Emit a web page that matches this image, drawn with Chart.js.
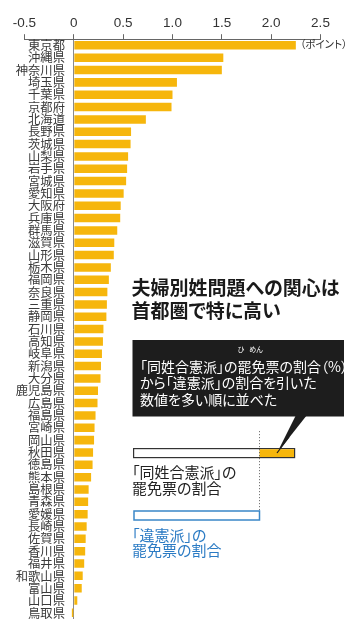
<!DOCTYPE html>
<html lang="ja">
<head>
<meta charset="utf-8">
<script src="https://cdn.jsdelivr.net/npm/chart.js@4.4.1/dist/chart.umd.min.js"></script>
<style>
  html, body { margin: 0; padding: 0; background: #fff; }
  #wrap { position: relative; width: 355px; height: 640px; overflow: hidden; }
  #chart { position: absolute; left: 0; top: 0; }
  .txt { position: absolute; white-space: nowrap; font-family: "Noto Sans CJK JP", sans-serif; font-feature-settings: "palt"; pointer-events: none; }
  svg { position: absolute; left: 0; top: 0; }
</style>
</head>
<body>
<div id="wrap">
  <canvas id="chart" width="355" height="640"></canvas>
  <svg width="355" height="640" viewBox="0 0 355 640">
    <rect x="132.5" y="340" width="211.5" height="76.5" fill="#1d1d1d"/>
    <polygon points="296,415 307,415 277,453" fill="#1d1d1d"/>
    <rect x="133.6" y="448.6" width="161" height="9" fill="#fff" stroke="#333" stroke-width="1.2"/>
    <rect x="259.5" y="449.2" width="34.5" height="7.8" fill="#f6b60c"/>
    <line x1="277" y1="453" x2="289" y2="437" stroke="#1d1d1d" stroke-width="1.2"/>
    <line x1="259.5" y1="431" x2="259.5" y2="511" stroke="#555" stroke-width="0.8" stroke-dasharray="1.2,1.8"/>
    <rect x="134" y="511" width="125.5" height="9" fill="#fff" stroke="#3a87c8" stroke-width="1.5"/>
  </svg>
  <div class="txt" style="left:300px; top:36px; font-size:10.5px; line-height:15px; color:#333;">（ポイント）</div>
  <div class="txt" style="left:131.5px; top:276px; font-size:19px; line-height:22.5px; font-weight:bold; color:#1a1a1a;">夫婦別姓問題への関心は<br>首都圏で特に高い</div>
  <div class="txt" style="left:231px; top:345px; width:20px; text-align:center; font-size:7px; line-height:9px; color:#fff;">ひ</div>
  <div class="txt" style="left:246px; top:345px; width:20px; text-align:center; font-size:7px; line-height:9px; color:#fff;">めん</div>
  <div class="txt" style="left:140px; top:358px; font-size:14px; line-height:16.3px; color:#fff;">「同姓合憲派」の罷免票の割合（%）<br>から「違憲派」の割合を引いた<br>数値を多い順に並べた</div>
  <div class="txt" style="left:132px; top:463.5px; font-size:15px; line-height:16px; color:#222;">「同姓合憲派」の<br>罷免票の割合</div>
  <div class="txt" style="left:132px; top:526.5px; font-size:15px; line-height:15.5px; color:#2b7bc4;">「違憲派」の<br>罷免票の割合</div>
</div>
<script>
const prefectures = ['東京都','沖縄県','神奈川県','埼玉県','千葉県','京都府','北海道','長野県','茨城県','山梨県','岩手県','宮城県','愛知県','大阪府','兵庫県','群馬県','滋賀県','山形県','栃木県','福岡県','奈良県','三重県','静岡県','石川県','高知県','岐阜県','新潟県','大分県','鹿児島県','広島県','福島県','宮崎県','岡山県','秋田県','徳島県','熊本県','島根県','青森県','愛媛県','長崎県','佐賀県','香川県','福井県','和歌山県','富山県','山口県','鳥取県'];
const pointDiff = [2.25,1.515,1.50,1.045,1.0,0.99,0.73,0.58,0.575,0.55,0.54,0.53,0.505,0.475,0.47,0.44,0.41,0.405,0.375,0.355,0.34,0.335,0.33,0.30,0.295,0.285,0.275,0.27,0.245,0.24,0.22,0.21,0.205,0.195,0.19,0.175,0.15,0.145,0.14,0.13,0.12,0.115,0.105,0.09,0.08,0.035,-0.02];
const xTickLabels = ['-0.5','0','0.5','1.0','1.5','2.0','2.5'];

new Chart(document.getElementById('chart'), {
  type: 'bar',
  data: {
    labels: prefectures,
    datasets: [{
      data: pointDiff,
      backgroundColor: '#f6b60c',
      borderWidth: 0,
      barPercentage: 0.69,
      categoryPercentage: 1.0
    }]
  },
  options: {
    indexAxis: 'y',
    responsive: false,
    animation: false,
    layout: { padding: { left: 24.5, right: 34.5, top: 12, bottom: 21 } },
    plugins: { legend: { display: false }, tooltip: { enabled: false } },
    scales: {
      x: {
        position: 'top',
        min: -0.5,
        max: 2.5,
        ticks: {
          stepSize: 0.5,
          padding: 3,
          maxRotation: 0,
          color: '#333',
          font: { family: 'Liberation Sans', size: 13.5 },
          callback: (v, i) => xTickLabels[i]
        },
        grid: {
          drawTicks: true,
          tickLength: 5,
          tickColor: '#666',
          lineWidth: 1,
          color: (ctx) => (ctx.tick && ctx.tick.value === 0) ? '#8a8a8a' : 'rgba(0,0,0,0)'
        },
        border: { display: true, color: '#666', width: 1 }
      },
      y: {
        position: { x: -0.09 },
        grid: { display: false, drawTicks: false },
        border: { display: false },
        ticks: {
          padding: 0,
          autoSkip: false,
          color: '#3a3a3a',
          font: { family: 'Noto Sans CJK JP', size: 12.3 }
        }
      }
    }
  }
});
</script>
</body>
</html>
